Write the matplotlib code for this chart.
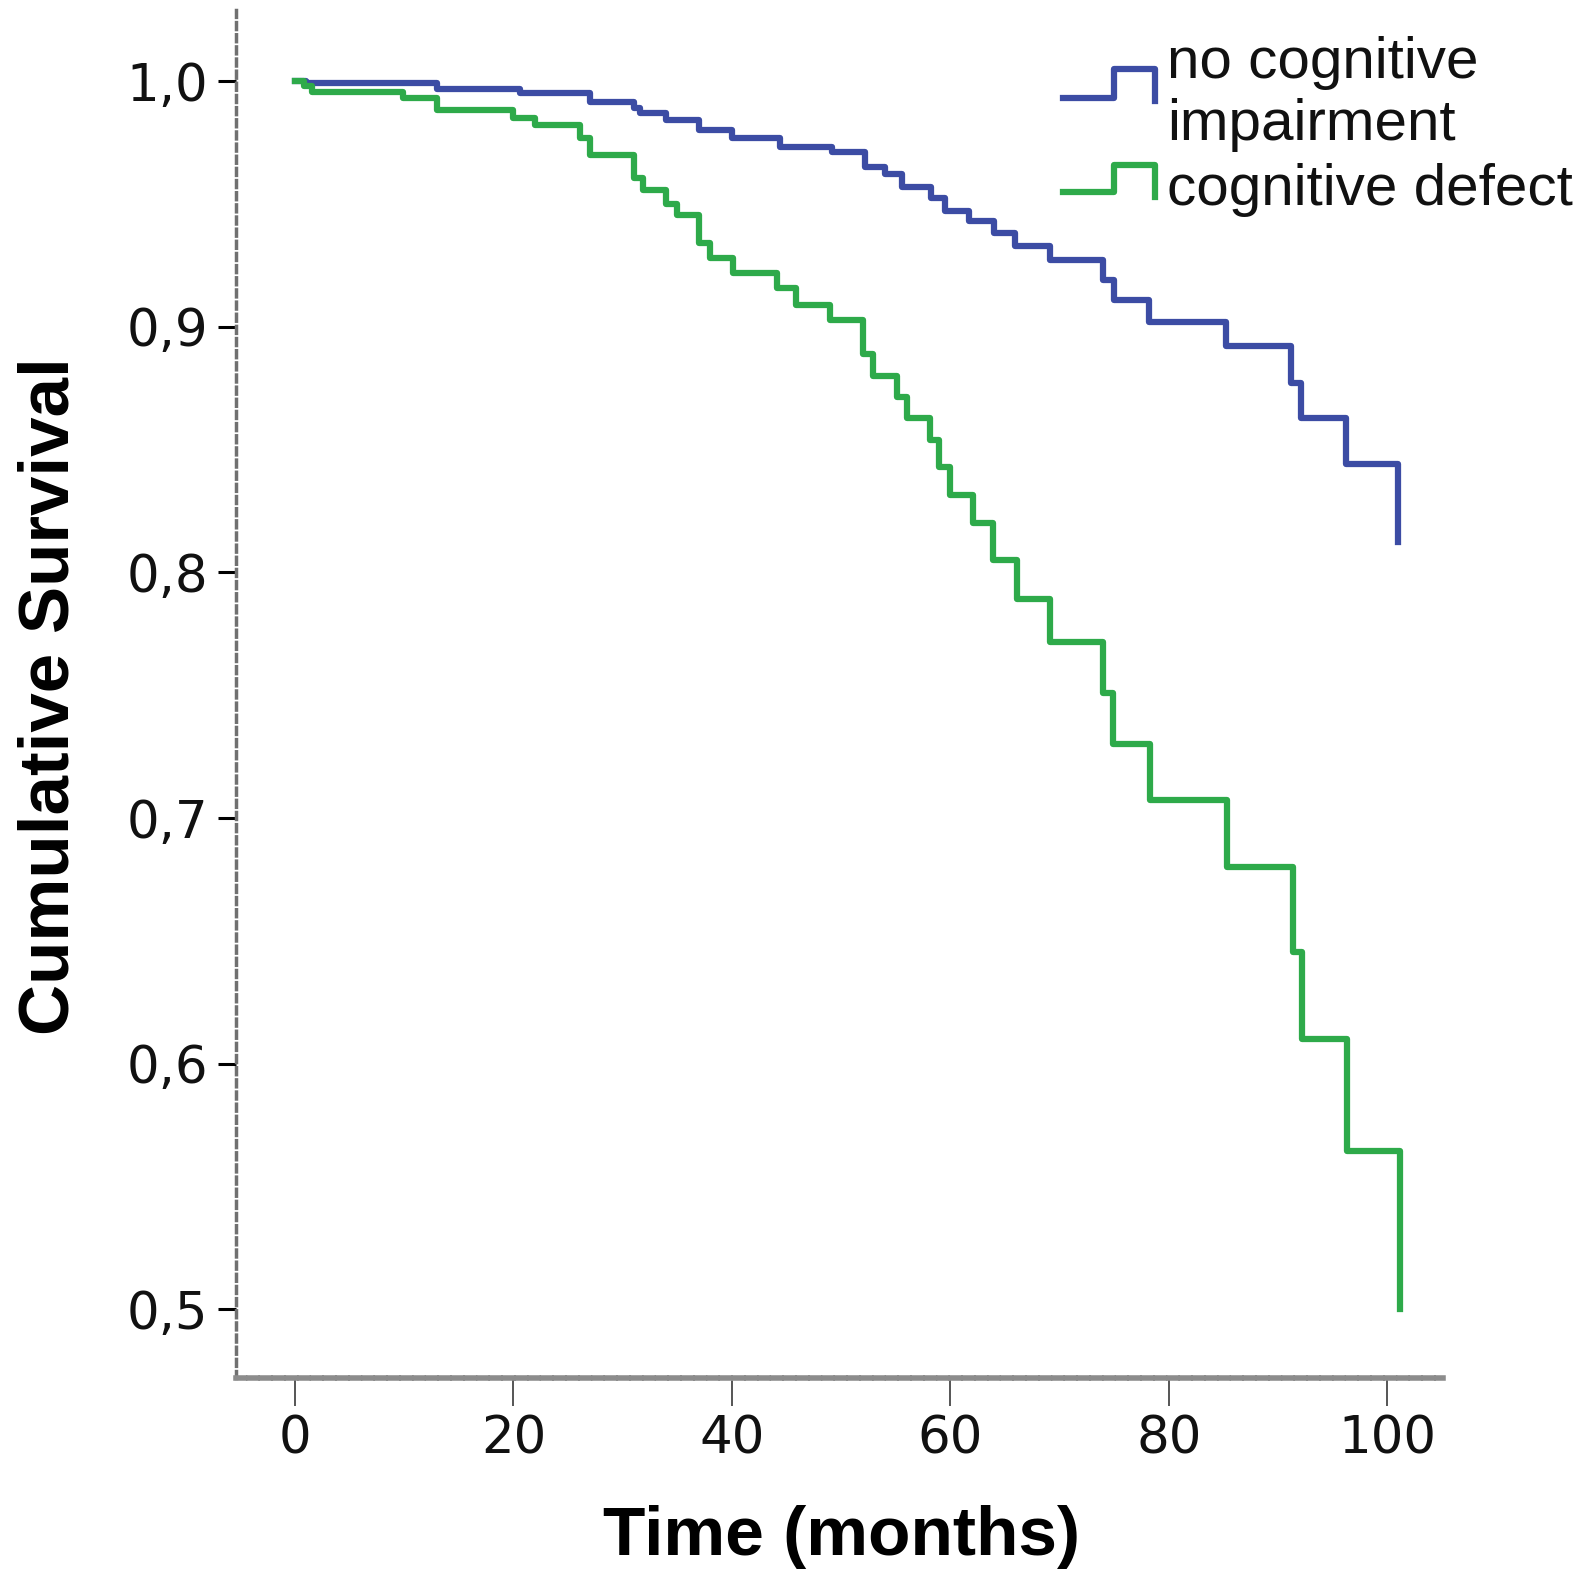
import matplotlib
matplotlib.use('Agg')
import matplotlib.pyplot as plt
from matplotlib.lines import Line2D
from matplotlib.ticker import FuncFormatter, MultipleLocator

# Kaplan-Meier estimates (time in months, cumulative survival)
times_nci = [0, 1, 13, 20.6, 27, 31, 31.6, 34, 37, 40, 44.4, 49.2, 52.2, 54,
             55.6, 58.2, 59.5, 61.7, 64, 65.9, 69.1, 74, 75, 78.2, 85.2, 91.2,
             92.1, 96.2, 101]
surv_nci = [1.0, 0.999, 0.9967, 0.995, 0.9915, 0.989, 0.987, 0.984, 0.980,
            0.9768, 0.973, 0.971, 0.965, 0.962, 0.957, 0.9525, 0.947, 0.943,
            0.938, 0.933, 0.927, 0.919, 0.911, 0.902, 0.892, 0.877, 0.863,
            0.844, 0.8124]

times_cd = [0, 0.8, 1.6, 9.9, 13, 20, 22, 26.1, 27, 31, 31.9, 34, 35, 37, 38,
            40.1, 44.1, 45.9, 49, 52, 52.9, 55.1, 56, 58.1, 59, 60, 62.1, 63.9,
            66.1, 69.1, 74, 74.9, 78.3, 85.3, 91.4, 92.2, 96.3, 101.2]
surv_cd = [1.0, 0.998, 0.9955, 0.993, 0.988, 0.985, 0.982, 0.977, 0.970, 0.9605,
           0.9556, 0.950, 0.9455, 0.934, 0.928, 0.922, 0.9157, 0.909, 0.9027,
           0.889, 0.880, 0.8714, 0.863, 0.854, 0.843, 0.8315, 0.820, 0.805, 0.789,
           0.7717, 0.751, 0.730, 0.7073, 0.680, 0.6455, 0.610, 0.5643, 0.50]

labels = ['no cognitive', 'impairment', 'cognitive defect']
colors = ['#3C4CA4', '#2EAA4A']

W, H = 1588, 1576
fig = plt.figure(figsize=(W / 100, H / 100), dpi=100)
ax = fig.add_axes([236 / W, 1 - 1378 / H, (1443 - 236) / W, (1378 - 10) / H])

ax.step(times_nci, surv_nci, where='post', color=colors[0], lw=4.5)
ax.step(times_cd, surv_cd, where='post', color=colors[1], lw=4.5)

ax.set_xlim(-5.4, 105.1)
ax.set_ylim(0.4721, 1.0289)
ax.xaxis.set_major_locator(MultipleLocator(20))
ax.yaxis.set_major_locator(MultipleLocator(0.1))
ax.yaxis.set_major_formatter(FuncFormatter(lambda v, pos: f'{v:.1f}'.replace('.', ',')))

for side in ['top', 'right']:
    ax.spines[side].set_visible(False)
ax.spines['left'].set_color('#707070')
ax.spines['left'].set_linewidth(2.5)
ax.spines['left'].set_linestyle((0, (2, 1.5)))
ax.spines['bottom'].set_color('#8c8c8c')
ax.spines['bottom'].set_linewidth(4)
ax.spines['bottom'].set_linestyle((0, (1.5, 0.8)))

ax.tick_params(axis='y', length=13, width=2.2, color='black', pad=7,
               labelsize=37, labelcolor='#111111')
ax.tick_params(axis='x', length=20, width=1.4, color='#555555', pad=6,
               labelsize=37, labelcolor='#111111')
for t in ax.get_xticklabels() + ax.get_yticklabels():
    t.set_family('DejaVu Sans')

ax.set_ylabel('Cumulative Survival', fontsize=51, fontweight='bold',
              family='Liberation Sans', va='center')
ax.yaxis.set_label_coords(-0.1533, 0.4985)
ax.set_xlabel('Time (months)', fontsize=50, fontweight='bold',
              family='Liberation Sans', va='center')
ax.xaxis.set_label_coords(0.502, -0.116)

# hand-drawn legend with step-shaped handles, like the SPSS output
def px(x, y):
    return x / W, 1 - y / H

handle_x = [1063, 1114, 1114, 1155, 1155]
for i, (base, top, end) in enumerate([(98, 69, 101), (192, 165, 197)]):
    pts = [px(x, y) for x, y in zip(handle_x, [base, base, top, top, end])]
    fig.add_artist(Line2D([p[0] for p in pts], [p[1] for p in pts],
                          color=colors[i], lw=4.5, transform=fig.transFigure))

for text, base in zip(labels, [78, 140, 205]):
    x, y = px(1167, base)
    fig.text(x, y, text, fontsize=42, family='Liberation Sans', va='baseline',
             color='#111111')

fig.savefig('out.png', dpi=100, facecolor='white')
